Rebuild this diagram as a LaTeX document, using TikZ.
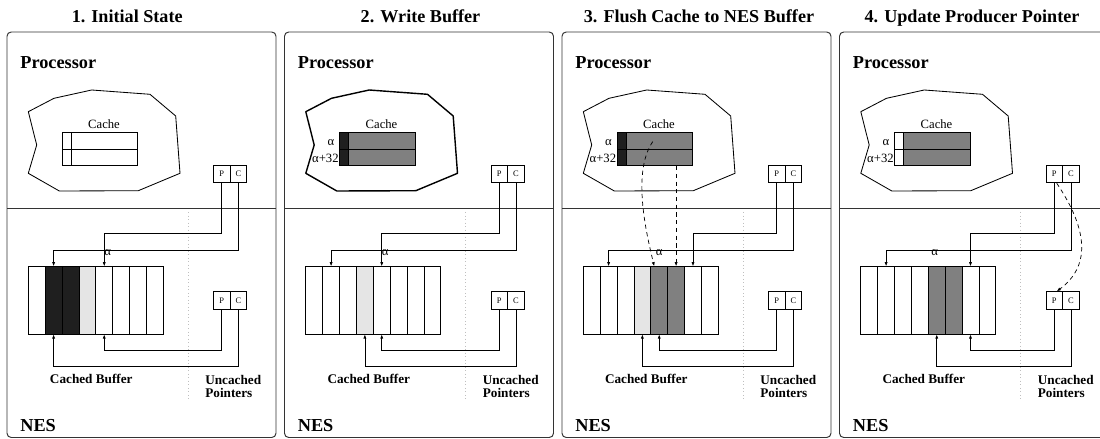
\documentclass[tikz,border=0pt]{standalone}
\usepackage{fontspec}
\setmainfont{Liberation Serif}
\usepackage{tikz}
\usetikzlibrary{calc,arrows.meta,positioning}
\colorlet{cellblack}{black!88}
\colorlet{cellgray}{black!50}
\colorlet{celllight}{black!10}

\begin{document}
\begin{tikzpicture}
	[x=0.025cm,y=-0.025cm,line width=0.5pt,
	frame/.style={draw=black!80,line width=0.7pt},
	ttl/.style={font=\fontsize{12.9}{14}\selectfont\bfseries,anchor=base},
	big/.style={font=\fontsize{13}{15}\selectfont\bfseries,anchor=base west,inner sep=0pt},
	sub/.style={font=\fontsize{9.4}{9}\selectfont\bfseries,inner sep=0pt},
	lbl/.style={font=\fontsize{9}{10}\selectfont,inner sep=0pt},
	pcbox/.style={draw,minimum width=0.4175cm,minimum height=0.43cm,inner sep=0pt,font=\fontsize{6}{7}\selectfont},
	cell/.style={draw,minimum width=0.421875cm,minimum height=1.6825cm,inner sep=0pt},
	tag/.style={draw,minimum width=0.225cm,minimum height=0.4175cm,inner sep=0pt},
	cline/.style={draw,minimum width=1.6675cm,minimum height=0.4175cm,inner sep=0pt},
	ptr/.style={-{Latex[length=3pt,width=2.2pt]}},
	flush/.style={ptr,dash pattern=on 3pt off 2.5pt},
	dotline/.style={draw=black!25,dotted}]
	\useasboundingbox (0,0) rectangle (1100,439);
	\foreach \k/\head/\tx/\tagfill/\linefill/\cw/\cells/\pto/\cto/\plo/\clo/\ax in {
		0/{1. Initial State}/120.2/white/white/0.6pt/{white,cellblack,cellblack,celllight,white,white,white,white}/5/2/5/2/3.5,
		1/{2. Write Buffer}/136/cellblack/cellgray/1pt/{white,white,white,celllight,white,white,white,white}/5/2/5/4/3.5,
		2/{3. Flush Cache to NES Buffer}/137/cellblack/cellgray/0.6pt/{white,white,white,celllight,cellgray,cellgray,white,white}/7/2/5/4/0,
		3/{4. Update Producer Pointer}/132.5/white/cellgray/0.6pt/{white,white,white,white,cellgray,cellgray,white,white}/7/2/7/5/-2}
	{
		\begin{scope}[shift={({7+277.5*\k},0)}]
			\draw[frame,rounded corners=3pt] (0,32) rectangle (269,437.5);
			\draw[frame] (0,208) -- (269,208);
			\node[ttl] (title) at (\tx,22.7) {\head};
			\node[big] (proc) at (13,68.3) {Processor};
			\node[big] (nes) at (13,431) {NES};
			\draw[line width=\cw,line join=round] (21.3,111.7) -- (47,98.3) -- (84.7,90) -- (143,94.3)
			-- (168.7,116) -- (173,173.3) -- (131.3,190.7) -- (52.3,191) -- (21.3,173.3) -- (29.7,145) -- cycle;
			\node[lbl,anchor=base] (cache) at (97,128.3) {Cache};
			\node[tag,fill=\tagfill] (tag1) at (59.5,140.65) {};
			\node[tag,fill=\tagfill] (tag2) at (59.5,157.35) {};
			\node[cline,fill=\linefill] (line1) at (97.35,140.65) {};
			\node[cline,fill=\linefill] (line2) at (97.35,157.35) {};
			\ifnum\k>0
			\node[lbl,anchor=base east] (a1) at (50,145.5) {α};
			\node[lbl,anchor=base east] (a2) at (54.5,162.7) {α+32};
			\fi
			\draw[dotline] (181.3,212) -- (181.3,400);
			\node[pcbox] (pu) at (214.7,174.2) {P};
			\node[pcbox] (cu) at (231.4,174.2) {C};
			\node[pcbox] (pl) at (214.7,300.35) {P};
			\node[pcbox] (cl) at (231.4,300.35) {C};
			\foreach \f [count=\i] in \cells
			{
				\node[cell,fill=\f] (b\i) at ({21.3+16.875*(\i-0.5)},300.35) {};
			}
			\node[lbl] (alpha) at ($(b5.north)+(\ax,-13.4)$) {α};
			\node[sub,anchor=base] (cbuf) at (84.3,384) {Cached Buffer};
			\node[sub,anchor=north west,align=left] (uptr) at (198,375) {Uncached\\Pointers};
			\coordinate (ptop) at (0,233.3);
			\coordinate (ctop) at (0,250);
			\coordinate (pbot) at (0,350);
			\coordinate (cbot) at (0,366.7);
			\draw[ptr] (pu.south) -- (pu.south |- ptop) -| (b\pto.north);
			\draw[ptr] (cu.south) -- (cu.south |- ctop) -| (b\cto.north);
			\draw[ptr] (pl.south) -- (pl.south |- pbot) -| (b\plo.south);
			\draw[ptr] (cl.south) -- (cl.south |- cbot) -| (b\clo.south);
			\ifnum\k=2
			\draw[flush] ($(line1.center)+(-6.6,1)$) .. controls (70,172) and (84,232) .. ($(b5.north)+(-5,0)$);
			\draw[flush] (b6.north |- line2.south) -- (b6.north);
			\fi
			\ifnum\k=3
			\draw[flush] ($(pu.south)+(2.5,0)$) .. controls (250,232) and (250,267) .. ($(pl.north)+(2.5,0)$);
			\fi
		\end{scope}
	}
\end{tikzpicture}
\end{document}
